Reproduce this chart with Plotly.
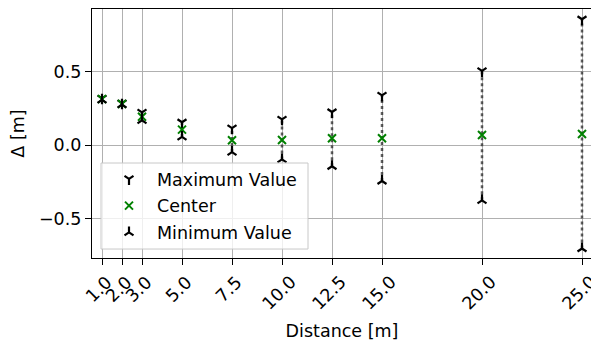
import plotly.graph_objects as go

distance = [1.0, 2.0, 3.0, 5.0, 7.5, 10.0, 12.5, 15.0, 20.0, 25.0]
center = [0.313, 0.280, 0.193, 0.105, 0.032, 0.034, 0.046, 0.046, 0.068, 0.075]
max_val = [0.318, 0.285, 0.222, 0.155, 0.115, 0.175, 0.225, 0.338, 0.505, 0.857]
min_val = [0.308, 0.275, 0.168, 0.055, -0.048, -0.098, -0.145, -0.245, -0.377, -0.705]
tick_labels = [f"{d:.1f}" for d in distance]
ytick_vals = [-0.5, 0.0, 0.5]
ytick_labels = ["\u22120.5", "0.0", "0.5"]

FONT = "DejaVu Sans"
FS = 17.5

# vertical dotted connectors built from the data
lx, ly = [], []
for d, lo, hi in zip(distance, min_val, max_val):
    lx += [d, d, None]
    ly += [lo, hi, None]

fig = go.Figure()
fig.add_trace(go.Scatter(x=lx, y=ly, mode="lines", showlegend=False, hoverinfo="skip",
                         line=dict(color="rgba(40,40,40,0.75)", width=2.5, dash="dot")))
fig.add_trace(go.Scatter(x=distance, y=max_val, mode="markers", name="Maximum Value",
                         legendgroup="a",
                         marker=dict(symbol="y-down", size=7.5, color="black",
                                     line=dict(color="black", width=2.2))))
fig.add_trace(go.Scatter(x=distance, y=center, mode="markers", name="Center",
                         legendgroup="b",
                         marker=dict(symbol="x-thin", size=8, color="green",
                                     line=dict(color="green", width=2))))
fig.add_trace(go.Scatter(x=distance, y=min_val, mode="markers", name="Minimum Value",
                         legendgroup="c",
                         marker=dict(symbol="y-up", size=7.5, color="black",
                                     line=dict(color="black", width=2.2))))

axis_common = dict(showline=True, mirror=True, linecolor="black", linewidth=1.25,
                   ticks="outside", ticklen=6, tickwidth=1.25, tickcolor="black",
                   showgrid=True, gridcolor="#b0b0b0", gridwidth=1, zeroline=False,
                   tickfont=dict(family=FONT, size=FS, color="black"))

# rotated x tick labels, centred under each tick (matplotlib style)
for d, lab in zip(distance, tick_labels):
    fig.add_annotation(x=d, y=0, xref="x", yref="paper", text=lab, showarrow=False,
                       textangle=-45, xanchor="center", yanchor="top", yshift=-13, xshift=-3,
                       borderpad=0,
                       font=dict(family=FONT, size=FS, color="black"))

# legend frame (semi-transparent) drawn as a shape in paper coordinates
fig.add_shape(type="rect", x0=0.018, x1=0.432, y0=0.036, y1=0.3815,
              xref="paper", yref="paper", layer="above",
              fillcolor="rgba(255,255,255,0.8)", line=dict(color="#c8c8c8", width=1))

fig.update_layout(
    width=591, height=334,
    margin=dict(l=84, r=7, t=1, b=84),
    paper_bgcolor="white", plot_bgcolor="white",
    font=dict(family=FONT, size=FS, color="black"),
    xaxis=dict(range=[0.5, 25.5], tickvals=distance, ticktext=tick_labels, showticklabels=False,
               title=dict(text="Distance [m]", font=dict(family=FONT, size=FS), standoff=60),
               **axis_common),
    yaxis=dict(range=[-0.77, 0.927], tickvals=ytick_vals, ticktext=ytick_labels,
               title=dict(text="\u0394 [m]", font=dict(family=FONT, size=FS), standoff=10),
               **axis_common),
    legend=dict(x=0.018, y=0.3895, xanchor="left", yanchor="top",
                bgcolor="rgba(0,0,0,0)", borderwidth=0, tracegroupgap=1,
                font=dict(family=FONT, size=FS, color="black"), itemwidth=46),
)

fig.write_html("out.html")
